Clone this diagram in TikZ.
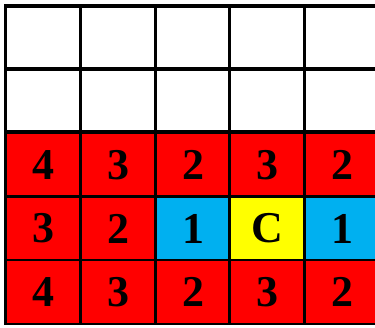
\documentclass[tikz,border=0pt]{standalone}
\usepackage{fontspec}
\setmainfont{Liberation Serif}
\definecolor{cellred}{HTML}{FF0000}
\definecolor{cellblue}{HTML}{00B0F0}
\definecolor{cellyellow}{HTML}{FFFF00}
\begin{document}
\begin{tikzpicture}[x=1pt,y=-1pt,
  cell/.style={draw=black,line width=2.2pt,minimum width=75pt,minimum height=64pt,inner sep=0pt,anchor=center,font=\fontsize{44}{44}\selectfont\bfseries},
  whitecell/.style={cell,fill=white,line width=3.2pt,minimum height=63pt},
  redcell/.style={cell,fill=cellred},
  bluecell/.style={cell,fill=cellblue},
  yellowcell/.style={cell,fill=cellyellow}]
\useasboundingbox[fill=white] (0,0) rectangle (375,328);
\clip (0,0) rectangle (375,328);
% white rows
\foreach \c/\x in {1/43,2/118,3/193,4/267,5/342}{
  \node[whitecell] (w1-\c) at (\x,37.5) {};
  \node[whitecell] (w2-\c) at (\x,100.5) {};
}
% coloured rows
\node[redcell] (r3-1) at (43,165) {4};
\node[redcell] (r3-2) at (118,165) {3};
\node[redcell] (r3-3) at (193,165) {2};
\node[redcell] (r3-4) at (267,165) {3};
\node[redcell] (r3-5) at (342,165) {2};
\node[redcell] (r4-1) at (43,228.5) {3};
\node[redcell] (r4-2) at (118,228.5) {2};
\node[bluecell] (r4-3) at (193,228.5) {1};
\node[yellowcell] (r4-4) at (267,228.5) {C};
\node[bluecell] (r4-5) at (342,228.5) {1};
\node[redcell] (r5-1) at (43,292) {4};
\node[redcell] (r5-2) at (118,292) {3};
\node[redcell] (r5-3) at (193,292) {2};
\node[redcell] (r5-4) at (267,292) {3};
\node[redcell] (r5-5) at (342,292) {2};
\end{tikzpicture}
\end{document}
